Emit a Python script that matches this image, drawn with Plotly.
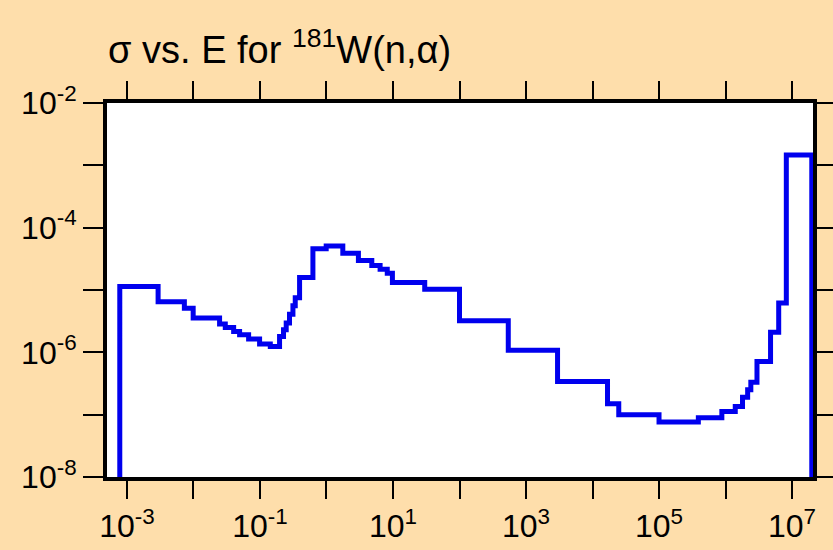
import plotly.graph_objects as go

# Group boundaries (eV) and cross sections (b) for each group
energy_bounds = [7.8e-4, 2.94e-3, 7.3e-3, 9.9e-3, 0.0247, 0.0301, 0.0402, 0.0494, 0.0675, 0.0987,
                 0.143, 0.197, 0.226, 0.248, 0.278, 0.313, 0.339, 0.394, 0.625, 0.99,
                 1.76, 3.02, 4.8, 6.4, 8.2, 9.8, 30, 100, 541, 2980,
                 16800, 24800, 1e5, 3.9e5, 8.8e5, 1.4e6, 1.8e6, 2.15e6, 2.4e6, 2.97e6,
                 4.75e6, 6.3e6, 8.2e6, 1.98e7]
xs_values = [1.14e-5, 6.5e-6, 5.1e-6, 3.55e-6, 2.84e-6, 2.51e-6, 2.16e-6, 1.91e-6, 1.63e-6, 1.36e-6,
             1.24e-6, 1.8e-6, 2.3e-6, 2.95e-6, 4.1e-6, 5.6e-6, 7.5e-6, 1.58e-5, 4.57e-5, 5.1e-5,
             3.9e-5, 2.97e-5, 2.47e-5, 2.16e-5, 1.86e-5, 1.32e-5, 1.03e-5, 3.2e-6, 1.08e-6, 3.4e-7,
             1.5e-7, 1.0e-7, 7.6e-8, 8.9e-8, 1.12e-7, 1.35e-7, 1.9e-7, 2.5e-7, 3.3e-7, 7.1e-7,
             2.1e-6, 6.2e-6, 1.47e-3]
floor_value = 1e-9

x_tick_exps = list(range(-3, 8))
y_tick_exps = list(range(-8, -1))

FONT = "Liberation Sans Narrow, Arial Narrow, Liberation Sans, Arial, sans-serif"

xs = [energy_bounds[0]] + energy_bounds + [energy_bounds[-1]]
ys = [floor_value] + xs_values + [xs_values[-1], floor_value]

fig = go.Figure()
fig.add_trace(go.Scatter(x=xs, y=ys, mode="lines", line=dict(color="#0000ee", width=5, shape="hv"),
                         hoverinfo="skip", showlegend=False))

xt_vals = [10.0 ** e for e in x_tick_exps]
xt_text = [f"10<sup>{e}</sup>" if e % 2 != 0 else "" for e in x_tick_exps]
yt_vals = [10.0 ** e for e in y_tick_exps]
yt_text = [f"10<sup>{e}</sup>" if e % 2 == 0 else "" for e in y_tick_exps]

fig.update_layout(
    width=833, height=550,
    paper_bgcolor="#fedeab", plot_bgcolor="white",
    margin=dict(l=107, r=20, t=103, b=73),
    font=dict(family=FONT, size=32, color="black"),
    title=dict(text="σ vs. E for <sup>181</sup>W(n,α)", x=108 / 833, xref="container", xanchor="left",
               y=1 - 50 / 550, yref="container", yanchor="middle", font=dict(size=38, family=FONT)),
    xaxis=dict(type="log", range=[-3.30, 7.315], tickmode="array", tickvals=xt_vals, ticktext=xt_text,
               ticks="outside", ticklen=18, tickwidth=2, tickcolor="black", showgrid=False, zeroline=False,
               showline=True, linewidth=4, linecolor="black", mirror="allticks", automargin=False),
    yaxis=dict(type="log", range=[-8, -2], tickmode="array", tickvals=yt_vals, ticktext=yt_text,
               ticks="outside", ticklen=20, tickwidth=2, tickcolor="black", showgrid=False, zeroline=False,
               showline=True, linewidth=4, linecolor="black", mirror="allticks", automargin=False),
)

fig.write_html("out.html", config={"displayModeBar": False},
               post_script="document.body.style.margin='0';document.body.style.overflow='hidden';")
